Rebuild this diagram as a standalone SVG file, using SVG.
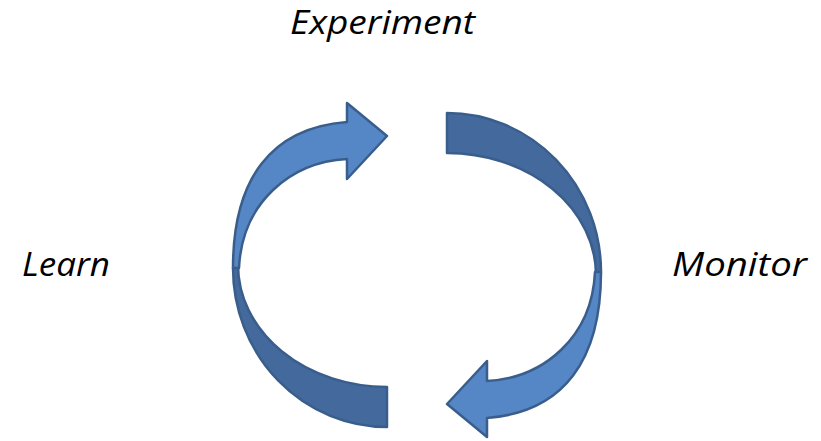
<svg xmlns="http://www.w3.org/2000/svg" width="821" height="441" viewBox="0 0 821 441">
<style>
.lbl{font-family:"Open Sans","Liberation Sans",sans-serif;font-style:italic;font-size:32px;fill:#000}
.back{fill:#43699D;stroke:#3A5E8C;stroke-width:2.5;stroke-linejoin:round}
.front{fill:#5586C5;stroke:#3A5E8C;stroke-width:2.5;stroke-linejoin:round}
</style>
<rect width="821" height="441" fill="#fff"/>
<defs>
<g id="arrowShape">
<path class="back" d="M233,268 A154 159 0 0 0 387,427 L387,387 A149 122 0 0 1 238,265 Z"/>
<path class="front" d="M233,268 C233,180 270,128 347,122 L347,103 L387,136 L347,179 L347,159 C290,162 242,203 239,268 Z"/>
</g>
</defs>
<g id="connectors">
<g id="arrow-learn-experiment"><use href="#arrowShape"/></g>
<g id="arrow-experiment-monitor"><use href="#arrowShape" transform="rotate(180 417 270)"/></g>
</g>
<g id="node-experiment"><text class="lbl" x="290" y="34" textLength="185" lengthAdjust="spacingAndGlyphs">Experiment</text></g>
<g id="node-learn"><text class="lbl" x="22" y="276" textLength="88" lengthAdjust="spacingAndGlyphs">Learn</text></g>
<g id="node-monitor"><text class="lbl" x="672" y="276" textLength="135" lengthAdjust="spacingAndGlyphs">Monitor</text></g>
</svg>
